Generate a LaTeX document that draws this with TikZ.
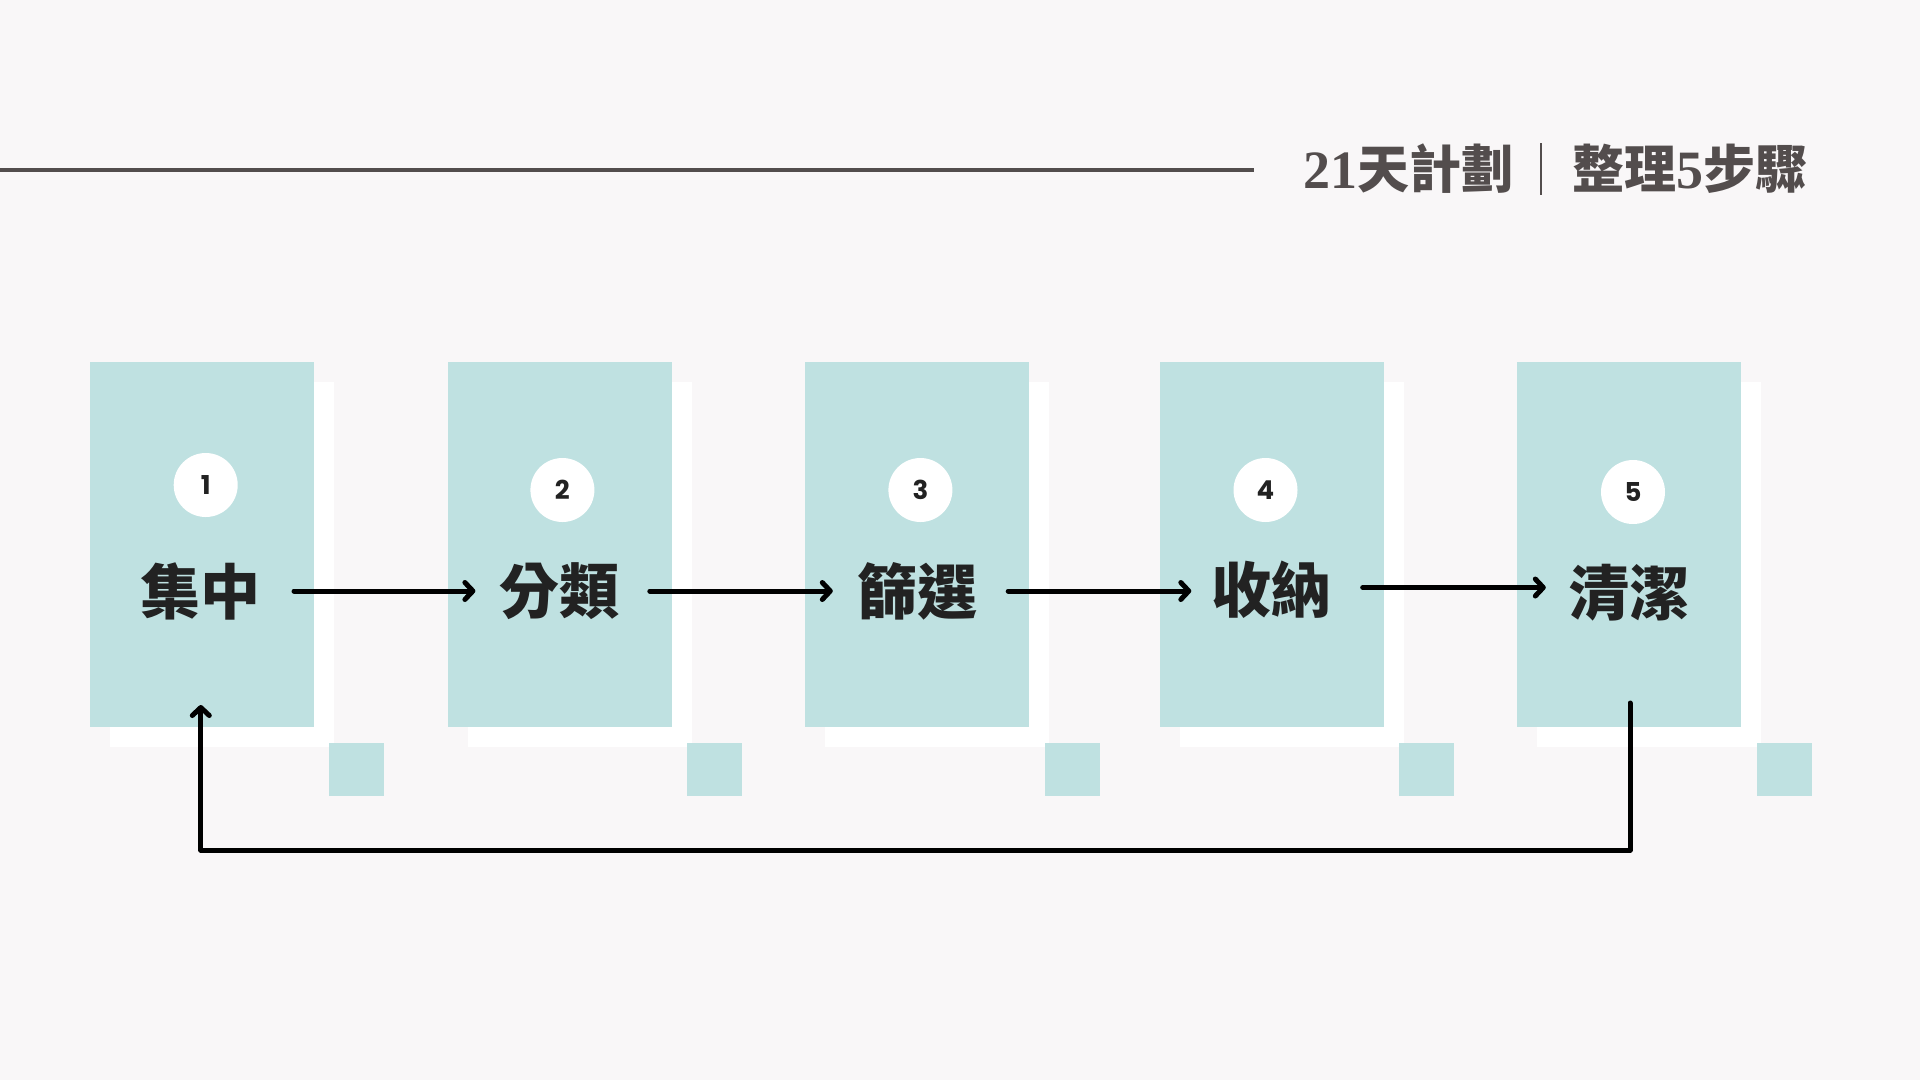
\documentclass[tikz,border=0pt]{standalone}
\usepackage{fontspec}
\newfontfamily\cjk{Noto Sans CJK TC}
\newfontfamily\numfont{Poppins}
\newfontfamily\serifdig{Liberation Serif}
\usetikzlibrary{arrows.meta}
\definecolor{bg}{HTML}{F9F7F8}
\definecolor{tealbox}{HTML}{BFE1E1}
\definecolor{ink}{HTML}{222222}
\definecolor{titlegray}{HTML}{534D4D}
\begin{document}
\begin{tikzpicture}[x=1pt,y=-1pt,
  card/.style={fill=tealbox, draw=none, minimum width=224pt, minimum height=365pt, inner sep=0pt, anchor=north west},
  cardshadow/.style={fill=white, draw=none, minimum width=224pt, minimum height=365pt, inner sep=0pt, anchor=north west},
  tag/.style={fill=tealbox, draw=none, minimum width=55pt, minimum height=53pt, inner sep=0pt, anchor=north west},
  numcirc/.style={circle, fill=white, draw=none, minimum size=64pt, inner sep=0pt, text=ink, font=\numfont\bfseries\fontsize{26}{26}\selectfont},
  steplabel/.style={text=ink, inner sep=0pt, minimum width=176pt, font=\cjk\bfseries\fontsize{60}{60}\selectfont},
  titletext/.style={text=titlegray, inner sep=0pt, font=\cjk\bfseries\fontsize{52}{52}\selectfont},
  flow/.style={draw=black, line width=5pt, line cap=round, line join=round, -{Straight Barb[length=8pt,width=17pt,round]}}
]
\useasboundingbox (0,0) rectangle (1920,1080);
\fill[bg] (0,0) rectangle (1920,1080);

% title
\draw[titlegray, line width=3.3pt] (0,170) -- (1254,170);
\node[titletext, anchor=west] (tl) at (1303,169) {{\serifdig\bfseries\fontsize{54}{54}\selectfont 21}天計劃};
\node[titletext, anchor=east] (tr) at (1808,169) {整理{\serifdig\bfseries\fontsize{54}{54}\selectfont 5}步驟};
\draw[titlegray, line width=2.5pt] (1541,143) -- (1541,195);

% shadows
\node[cardshadow] (s1) at (109.5,382) {};
\node[cardshadow] (s2) at (467.5,382) {};
\node[cardshadow] (s3) at (825,382) {};
\node[cardshadow] (s4) at (1179.6,382) {};
\node[cardshadow] (s5) at (1537,382) {};

% cards
\node[card] (c1) at (89.5,362) {};
\node[card] (c2) at (447.5,362) {};
\node[card] (c3) at (805,362) {};
\node[card] (c4) at (1159.6,362) {};
\node[card] (c5) at (1517,362) {};

% small squares
\node[tag] (q1) at (329,743) {};
\node[tag] (q2) at (687,743) {};
\node[tag] (q3) at (1044.5,743) {};
\node[tag] (q4) at (1398.5,743) {};
\node[tag] (q5) at (1756.5,743) {};

% number circles
\node[numcirc] (n1) at (205.7,485) {1};
\node[numcirc] (n2) at (562.4,490) {2};
\node[numcirc] (n3) at (920.4,490) {3};
\node[numcirc] (n4) at (1265.5,490) {4};
\node[numcirc] (n5) at (1633,492) {5};

% labels
\node[steplabel] (t1) at (200.8,591) {集中};
\node[steplabel] (t2) at (559.6,591) {分類};
\node[steplabel] (t3) at (917,591) {篩選};
\node[steplabel] (t4) at (1271.5,590) {收納};
\node[steplabel] (t5) at (1629,593) {清潔};

% arrows
\draw[flow] ([xshift=5pt]t1.east) -- ([xshift=4pt]t2.west |- t1.east);
\draw[flow] ([xshift=2pt]t2.east) -- ([xshift=4pt]t3.west |- t2.east);
\draw[flow] ([xshift=3pt]t3.east) -- ([xshift=8pt]t4.west |- t3.east);
\draw[flow] ([xshift=3pt,yshift=2.5pt]t4.east) -- ([xshift=5pt,yshift=2.5pt]t5.west |- t4.east);

% return loop
\coordinate (r5) at (1630,703);
\coordinate (rb) at (1630,850);
\coordinate (r1) at (200.8,705);
\draw[flow] (r5) -- (rb) -| (r1);
\end{tikzpicture}
\end{document}
